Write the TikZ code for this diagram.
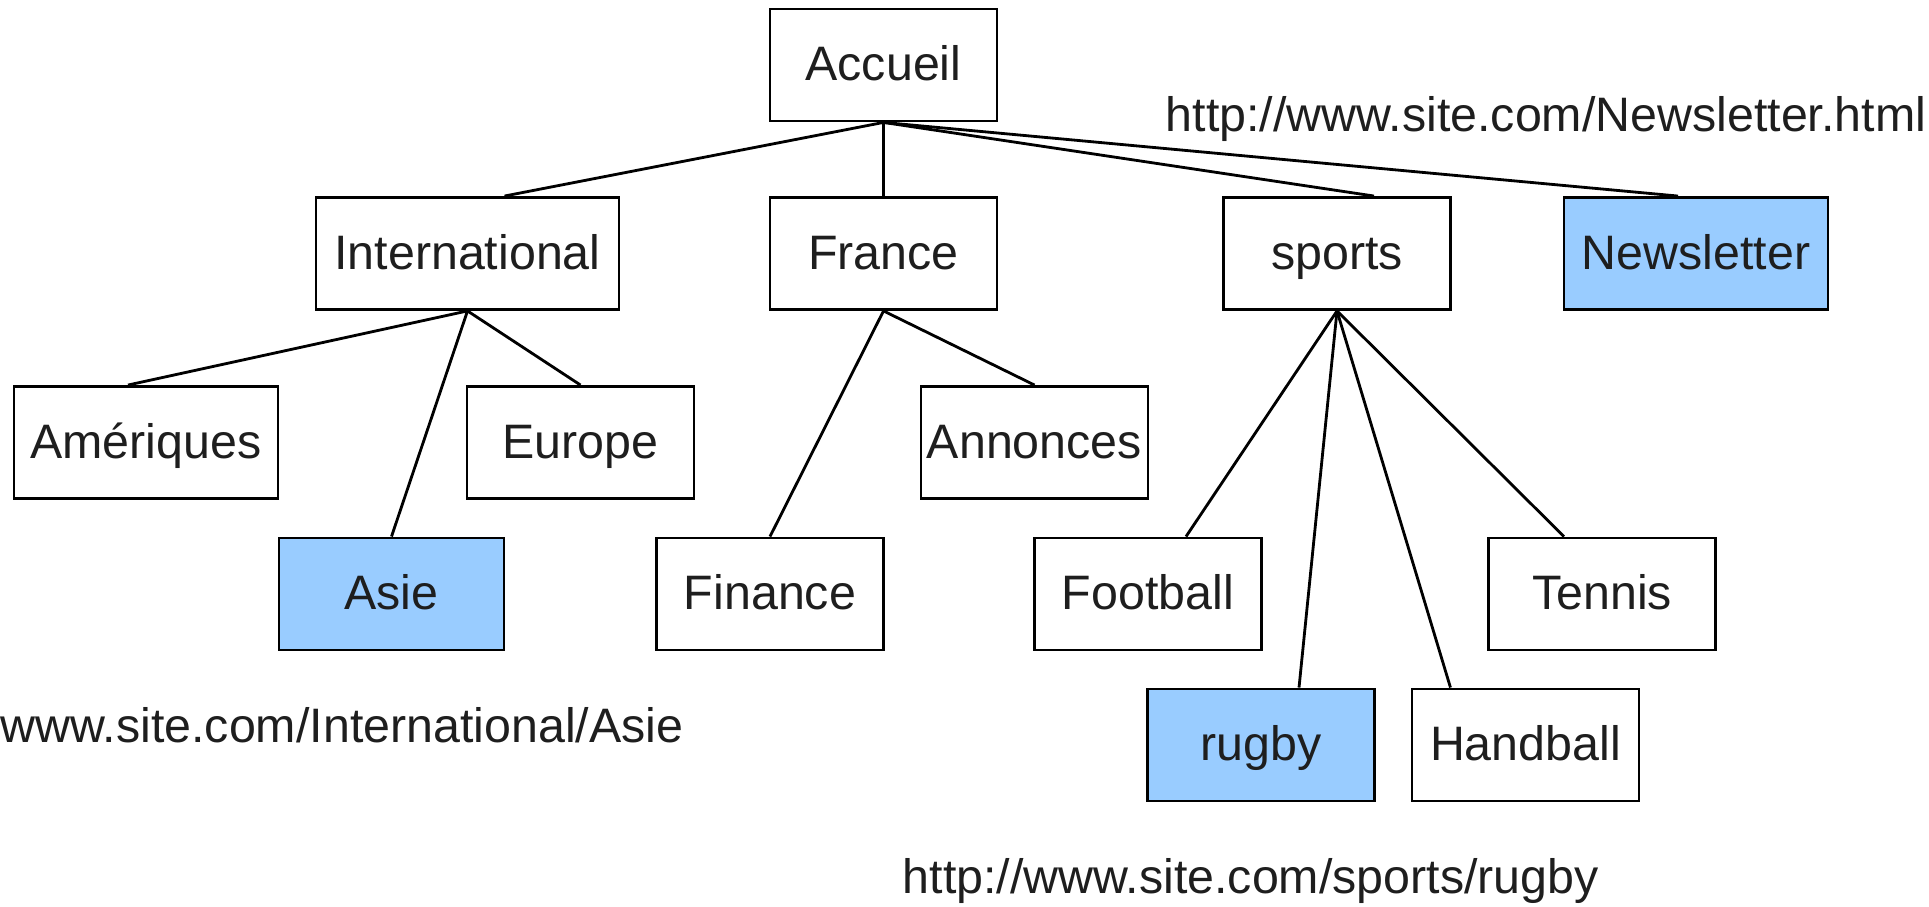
\documentclass[tikz,border=0pt]{standalone}
\usepackage{fontspec}
\setmainfont{Liberation Sans}
\definecolor{pageblue}{HTML}{99CCFF}
\definecolor{inkgray}{HTML}{1E1E1E}
\begin{document}
\begin{tikzpicture}[x=0.01cm,y=-0.01cm,
    font=\fontsize{13.75}{16}\selectfont,
    page/.style={draw,line width=0.8pt,text=inkgray,fill=white,minimum width=2.27cm,minimum height=1.12cm,inner sep=0pt,text height=0.9em,text depth=0pt},
    marked/.style={page,fill=pageblue},
    url/.style={anchor=west,inner sep=0pt,text=inkgray},
    link/.style={line width=0.8pt}]
    \useasboundingbox (0,0) rectangle (1929,907);
    % draw the pages
    \node[page] (accueil) at (883.5,65) {Accueil};
    \node[page,minimum width=3.03cm] (intl) at (467.5,253.5) {International};
    \node[page] (france) at (883.5,253.5) {France};
    \node[page] (sports) at (1337,253.5) {sports};
    \node[marked,minimum width=2.64cm] (news) at (1696,253.5) {Newsletter};
    \node[page,minimum width=2.64cm] (amer) at (146,442.5) {Amériques};
    \node[page] (europe) at (580.5,442.5) {Europe};
    \node[page] (annonces) at (1034.5,442.5) {Annonces};
    \node[marked,minimum width=2.25cm] (asie) at (391.5,594) {Asie};
    \node[page] (finance) at (770,594) {Finance};
    \node[page] (football) at (1148,594) {Football};
    \node[page] (tennis) at (1602,594) {Tennis};
    \node[marked] (rugby) at (1261,745) {rugby};
    \node[page] (handball) at (1525.5,745) {Handball};
    % draw the links
    \draw[link] (accueil.south) -- ([xshift=0.37cm]intl.north);
    \draw[link] (accueil.south) -- (france.north);
    \draw[link] (accueil.south) -- ([xshift=0.37cm]sports.north);
    \draw[link] (accueil.south) -- ([xshift=-0.18cm]news.north);
    \draw[link] (intl.south) -- ([xshift=-0.18cm]amer.north);
    \draw[link] (intl.south) -- (asie.north);
    \draw[link] (intl.south) -- (europe.north);
    \draw[link] (france.south) -- (finance.north);
    \draw[link] (france.south) -- (annonces.north);
    \draw[link] (sports.south) -- ([xshift=0.38cm]football.north);
    \draw[link] (sports.south) -- ([xshift=0.38cm]rugby.north);
    \draw[link] (sports.south) -- ([xshift=-0.75cm]handball.north);
    \draw[link] (sports.south) -- ([xshift=-0.38cm]tennis.north);
    % draw the addresses
    \node[url] (newsurl) at (1165,119) {http://www.site.com/Newsletter.html};
    \node[url] (asieurl) at (0,725) {www.site.com/International/Asie};
    \node[url] (rugbyurl) at (902,881) {http://www.site.com/sports/rugby};
\end{tikzpicture}
\end{document}
